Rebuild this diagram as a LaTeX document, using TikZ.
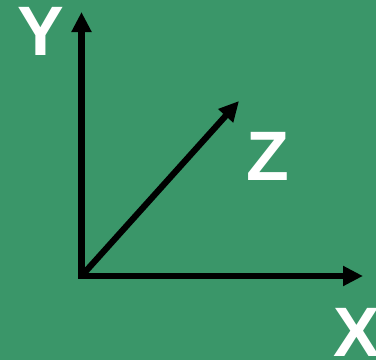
\documentclass[tikz,border=0pt]{standalone}
\usepackage{fontspec}
\setmainfont{Liberation Sans}
\usetikzlibrary{arrows.meta}
\definecolor{bggreen}{RGB}{58,150,105}
\begin{document}
\begin{tikzpicture}[x=1pt,y=-1pt,
  axis/.style={line width=6.2pt,draw=black,-{Triangle[length=20pt,width=19pt]}},
  lbl/.style={text=white,font=\fontsize{70}{70}\selectfont\bfseries,inner sep=0pt,anchor=center}]
\fill[bggreen] (0,0) rectangle (376,360);
\useasboundingbox (0,0) rectangle (376,360);
\coordinate (O) at (81.5,276);
\coordinate (Ytip) at (81.5,12);
\coordinate (Xtip) at (363,276);
\coordinate (Ztip) at (239,101);
\draw[axis,{Triangle[length=20pt,width=19pt]}-{Triangle[length=20pt,width=19pt]},line join=miter] (Ytip) -- (O) -- (Xtip);
\draw[axis,line cap=butt] (O) -- (Ztip);
\node[lbl] (Ylab) at (41,31.5) {Y};
\node[lbl] (Zlab) at (268,156) {Z};
\node[lbl] (Xlab) at (357,332) {X};
\end{tikzpicture}
\end{document}
